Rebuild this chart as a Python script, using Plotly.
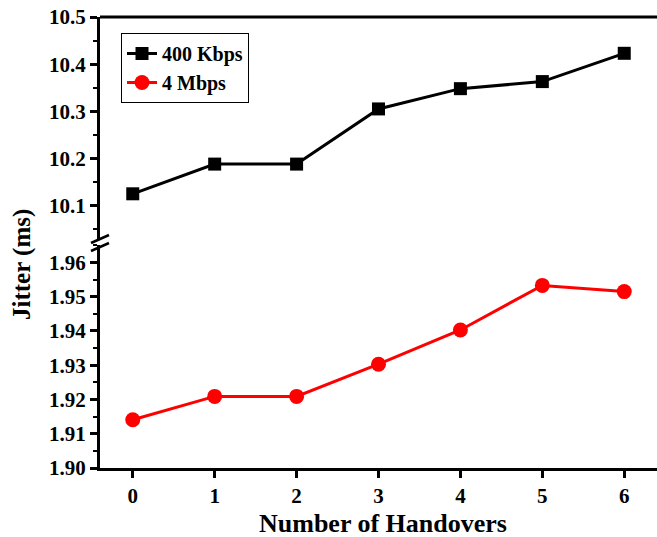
import plotly.graph_objects as go

# Number of handovers on the x axis
handovers = [0, 1, 2, 3, 4, 5, 6]

# Jitter (ms) for each bit rate
jitter_400kbps = [10.125, 10.188, 10.188, 10.305, 10.348, 10.363, 10.423]
jitter_4mbps = [1.9141, 1.9209, 1.9209, 1.9303, 1.9403, 1.9533, 1.9515]

upper_ticks = [10.1, 10.2, 10.3, 10.4, 10.5]
lower_ticks = [1.90, 1.91, 1.92, 1.93, 1.94, 1.95, 1.96]

FONT = "Liberation Serif"
W, H = 657, 537
ML, MR, MT, MB = 100, 0, 17, 69
PW, PH = W - ML - MR, H - MT - MB


def px_x(p):
    return (p - ML) / PW


def px_y(p):
    return (H - MB - p) / PH


fig = go.Figure()

fig.add_trace(go.Scatter(
    x=handovers, y=jitter_400kbps, name="400 Kbps",
    mode="lines+markers", yaxis="y2",
    line=dict(color="black", width=3),
    marker=dict(symbol="square", size=13, color="black"),
))
fig.add_trace(go.Scatter(
    x=handovers, y=jitter_4mbps, name="4 Mbps",
    mode="lines+markers", yaxis="y",
    line=dict(color="#ff0000", width=3),
    marker=dict(symbol="circle", size=15, color="#ff0000"),
))

axis_common = dict(
    showline=True, linecolor="black", linewidth=3,
    ticks="outside", ticklen=7, tickwidth=3, tickcolor="black",
    showgrid=False, zeroline=False,
    tickfont=dict(family=FONT, size=21, color="black", weight="bold"),
)

fig.update_layout(
    width=W, height=H,
    margin=dict(l=ML, r=MR, t=MT, b=MB),
    paper_bgcolor="white", plot_bgcolor="white",
    showlegend=True,
    legend=dict(
        x=px_x(121), y=px_y(33), xanchor="left", yanchor="top",
        bgcolor="white", bordercolor="black", borderwidth=1,
        font=dict(family=FONT, size=20, color="black", weight="bold"),
        tracegroupgap=0,
    ),
    xaxis=dict(
        range=[-0.4, 6.4], tickvals=handovers,
        anchor="y", **axis_common,
    ),
    yaxis=dict(
        domain=[0, px_y(245)], range=[1.90, 1.9651],
        tickvals=lower_ticks, tickformat=".2f",
        minor=dict(dtick=0.005, ticks="outside", ticklen=4, tickwidth=2, tickcolor="black"),
        anchor="x", **axis_common,
    ),
    yaxis2=dict(
        domain=[px_y(240), 1], range=[10.027, 10.5],
        tickvals=upper_ticks, tickformat=".1f",
        minor=dict(dtick=0.05, ticks="outside", ticklen=4, tickwidth=2, tickcolor="black"),
        anchor="x", **axis_common,
    ),
    shapes=[
        # top frame line
        dict(type="line", xref="paper", yref="paper", x0=0, x1=1, y0=1, y1=1,
             line=dict(color="black", width=3)),
        # axis break marks
        dict(type="line", xref="paper", yref="paper",
             x0=px_x(91), y0=px_y(243), x1=px_x(109), y1=px_y(235),
             line=dict(color="black", width=2.5)),
        dict(type="line", xref="paper", yref="paper",
             x0=px_x(91), y0=px_y(251), x1=px_x(109), y1=px_y(243),
             line=dict(color="black", width=2.5)),
    ],
    annotations=[
        dict(text="Jitter (ms)", xref="paper", yref="paper",
             x=px_x(22), y=px_y(265), textangle=-90, showarrow=False,
             xanchor="center", yanchor="middle",
             font=dict(family=FONT, size=25, color="black", weight="bold")),
        dict(text="Number of Handovers", xref="paper", yref="paper",
             x=px_x(383), y=px_y(523), showarrow=False,
             xanchor="center", yanchor="middle",
             font=dict(family=FONT, size=26, color="black", weight="bold")),
    ],
)

fig.write_html("out.html")
